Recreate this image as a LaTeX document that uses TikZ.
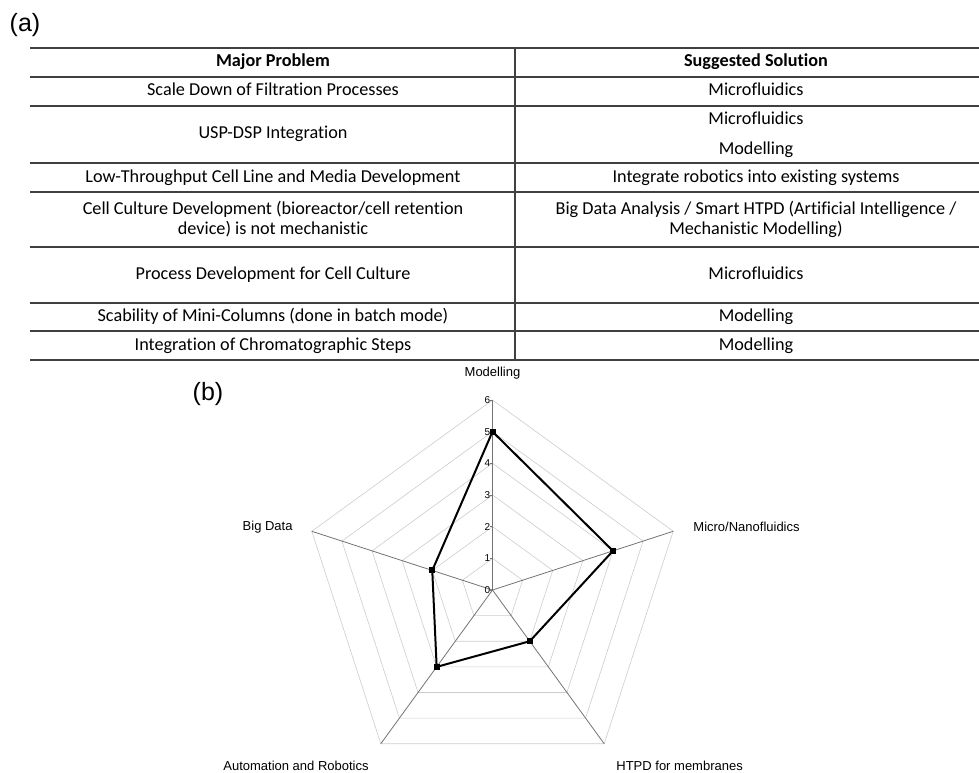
\documentclass[tikz,border=0pt]{standalone}
\usepackage{fontspec}
\newfontfamily\calibrifont[Ligatures=NoCommon]{Carlito}
\newfontfamily\arialfont{Liberation Sans}
\usepackage{tikz}
\usetikzlibrary{positioning}

\begin{document}
\begin{tikzpicture}[x=1pt, y=-1pt,
    cell/.style={align=center, inner sep=0pt, text height=13pt, text depth=4pt, font=\calibrifont\fontsize{18.2}{21}\selectfont},
    two line cell/.style={align=center, inner sep=0pt, font=\calibrifont\fontsize{18.2}{20}\selectfont},
    head/.style={cell, font=\calibrifont\bfseries\fontsize{18.2}{21}\selectfont},
    rule line/.style={line width=1.4pt, black!75},
    panel label/.style={inner sep=0pt, font=\arialfont\fontsize{25}{28}\selectfont},
    axis label/.style={inner sep=0pt, font=\arialfont\fontsize{13}{15}\selectfont},
    tick label/.style={inner sep=0pt, anchor=east, font=\arialfont\fontsize{10}{11}\selectfont},
    grid line/.style={gray!40, line width=0.6pt},
    spoke/.style={black!55, line width=0.8pt},
    data line/.style={black, line width=2pt, line join=round},
    data mark/.style={rectangle, fill=black, inner sep=0pt, minimum size=6pt}]
    \useasboundingbox (0,0) rectangle (979,773);

    \node at (25,25) [panel label] (label a) {(a)};
    \node at (208,394) [panel label] (label b) {(b)};

    % table rules
    \draw [rule line] (30,48) -- (979,48);
    \draw [rule line, line width=1.9pt] (30,77) -- (979,77);
    \draw [rule line] (30,106) -- (979,106);
    \draw [rule line] (30,163) -- (979,163);
    \draw [rule line] (30,192) -- (979,192);
    \draw [rule line] (30,247) -- (979,247);
    \draw [rule line] (30,303) -- (979,303);
    \draw [rule line] (30,331) -- (979,331);
    \draw [rule line] (30,360) -- (979,360);
    \draw [rule line, line width=1.1pt] (515,48) -- (515,360);

    \node at (273,62.5) [head] (problem head) {Major Problem};
    \node at (756,62.5) [head] (solution head) {Suggested Solution};

    \node at (273,91.5) [cell] (problem 1) {Scale Down of Filtration Processes};
    \node at (756,91.5) [cell] (solution 1) {Microfluidics};

    \node at (273,134.5) [cell] (problem 2) {USP-DSP Integration};
    \node at (756,120) [cell] (solution 2a) {Microfluidics};
    \node at (756,150) [cell] (solution 2b) {Modelling};

    \node at (273,177.5) [cell] (problem 3) {Low-Throughput Cell Line and Media Development};
    \node at (756,177.5) [cell] (solution 3) {Integrate robotics into existing systems};

    \node at (273,219.5) [two line cell] (problem 4) {Cell Culture Development (bioreactor/cell retention\\device) is not mechanistic};
    \node at (756,219.5) [two line cell] (solution 4) {Big Data Analysis / Smart HTPD (Artificial Intelligence /\\Mechanistic Modelling)};

    \node at (273,275) [cell] (problem 5) {Process Development for Cell Culture};
    \node at (756,275) [cell] (solution 5) {Microfluidics};

    \node at (273,317) [cell] (problem 6) {Scability of Mini-Columns (done in batch mode)};
    \node at (756,317) [cell] (solution 6) {Modelling};

    \node at (273,345.5) [cell] (problem 7) {Integration of Chromatographic Steps};
    \node at (756,345.5) [cell] (solution 7) {Modelling};

    % radar chart, one unit per score point
    \begin{scope}[shift={(492.5,590)}, x=31.67pt, y=31.67pt]
        \foreach \r in {1,...,6}
            \draw [grid line] (90:\r) -- (162:\r) -- (234:\r) -- (306:\r) -- (18:\r) -- cycle;

        \coordinate (centre) at (0,0);
        \coordinate (modelling tip) at (90:6);
        \coordinate (micro tip) at (18:6);
        \coordinate (htpd tip) at (306:6);
        \coordinate (automation tip) at (234:6);
        \coordinate (big data tip) at (162:6);

        \draw [spoke] (centre) -- (modelling tip);
        \draw [spoke] (centre) -- (micro tip);
        \draw [spoke] (centre) -- (htpd tip);
        \draw [spoke] (centre) -- (automation tip);
        \draw [spoke] (centre) -- (big data tip);

        \foreach \v in {0,...,6} {
            \draw [spoke] (-0.07,\v) -- (0,\v);
            \node at (-0.07,\v) [tick label] (tick \v) {\v};
        }

        \node [axis label, above=21pt of modelling tip] (modelling) {Modelling};
        \node [axis label, right=20pt of micro tip, yshift=4pt] (micro) {Micro/Nanofluidics};
        \node [axis label, below right=17pt and 12pt of htpd tip] (htpd) {HTPD for membranes};
        \node [axis label, below left=17pt and 12pt of automation tip] (automation) {Automation and Robotics};
        \node [axis label, left=19pt of big data tip, yshift=4pt] (big data) {Big Data};

        \coordinate (modelling value) at (90:5);
        \coordinate (micro value) at (18:4);
        \coordinate (htpd value) at (306:2);
        \coordinate (automation value) at (234:3);
        \coordinate (big data value) at (162:2);

        \draw [data line] (modelling value) -- (micro value) -- (htpd value) -- (automation value) -- (big data value) -- cycle;
        \node at (modelling value) [data mark] (modelling mark) {};
        \node at (micro value) [data mark] (micro mark) {};
        \node at (htpd value) [data mark] (htpd mark) {};
        \node at (automation value) [data mark] (automation mark) {};
        \node at (big data value) [data mark] (big data mark) {};
    \end{scope}
\end{tikzpicture}
\end{document}
